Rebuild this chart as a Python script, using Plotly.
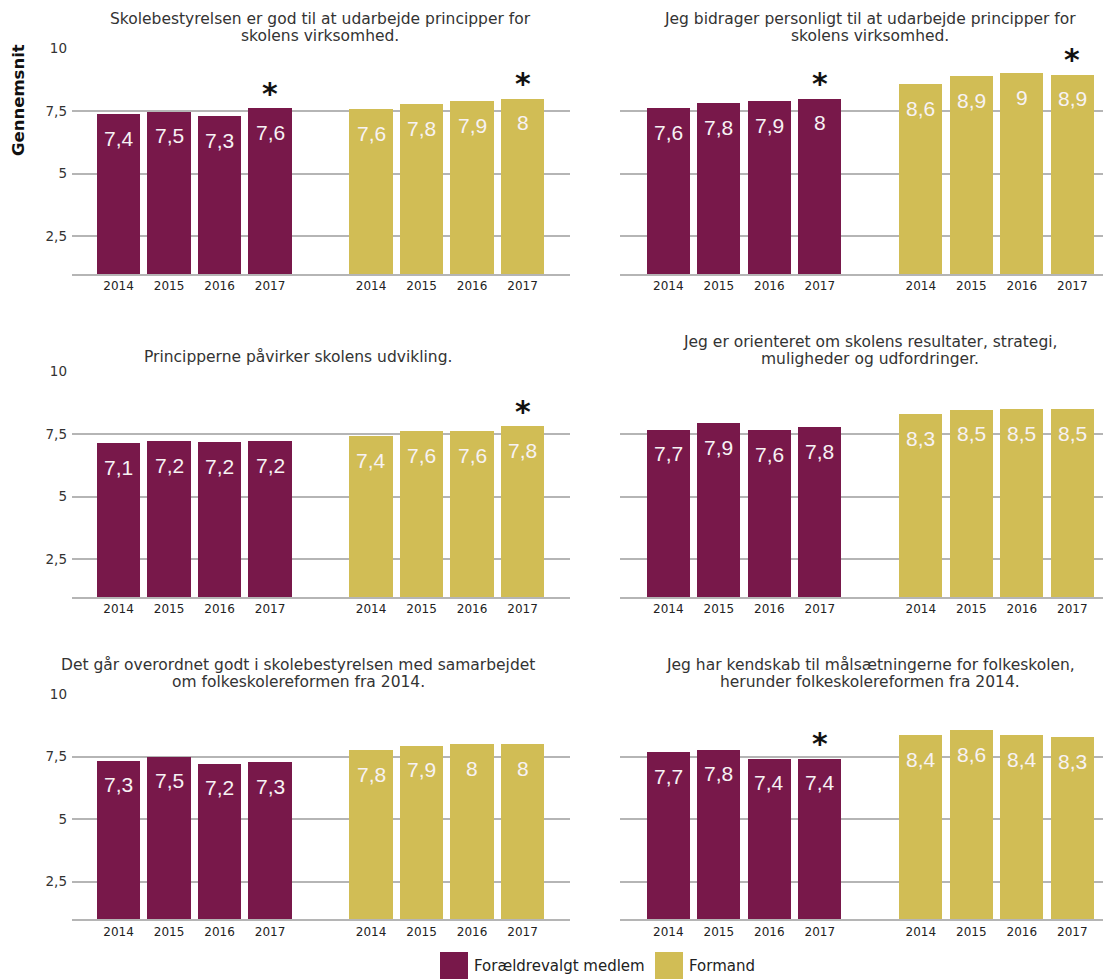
import plotly.graph_objects as go

# page offset (browser body margin)
OFF = 8
W, H = 1111 - OFF, 979 - OFF

years = ["2014", "2015", "2016", "2017"]
series_names = ["Forældrevalgt medlem", "Formand"]
titles = [
    ["Skolebestyrelsen er god til at udarbejde principper for", "skolens virksomhed."],
    ["Jeg bidrager personligt til at udarbejde principper for", "skolens virksomhed."],
    ["Principperne påvirker skolens udvikling."],
    ["Jeg er orienteret om skolens resultater, strategi,", "muligheder og udfordringer."],
    ["Det går overordnet godt i skolebestyrelsen med samarbejdet", "om folkeskolereformen fra 2014."],
    ["Jeg har kendskab til målsætningerne for folkeskolen,", "herunder folkeskolereformen fra 2014."],
]
purple_vals = [
    [7.36, 7.46, 7.28, 7.60],
    [7.60, 7.80, 7.87, 7.97],
    [7.13, 7.19, 7.16, 7.22],
    [7.66, 7.91, 7.64, 7.76],
    [7.33, 7.49, 7.22, 7.28],
    [7.67, 7.78, 7.42, 7.42],
]
yellow_vals = [
    [7.56, 7.76, 7.87, 7.97],
    [8.55, 8.88, 8.99, 8.93],
    [7.40, 7.60, 7.60, 7.80],
    [8.27, 8.46, 8.49, 8.49],
    [7.75, 7.94, 8.00, 8.00],
    [8.36, 8.56, 8.36, 8.27],
]
purple_star = [[0, 0, 0, 1], [0, 0, 0, 1], [0, 0, 0, 0], [0, 0, 0, 0], [0, 0, 0, 0], [0, 0, 0, 1]]
yellow_star = [[0, 0, 0, 1], [0, 0, 0, 1], [0, 0, 0, 1], [0, 0, 0, 0], [0, 0, 0, 0], [0, 0, 0, 0]]
ytick_vals = [2.5, 5, 7.5, 10]
ytick_text = ["2,5", "5", "7,5", "10"]
y_title = "Gennemsnit"

PURPLE = "#78184a"
YELLOW = "#d1bd55"
GRID = "#b5b5b5"

purple_slots = [0, 1, 2, 3]
yellow_slots = [5, 6, 7, 8]


def fmt(v):
    s = f"{v:.1f}".replace(".", ",")
    if s.endswith(",0"):
        s = s[:-2]
    return s


def px_x(p):
    return (p - OFF) / W


def px_y(p):
    return 1 - (p - OFF) / H


# geometry (page pixels)
col_x = [(72, 570), (620, 1111)]
col_range = [(-0.921, -0.921 + 498 / 50.5), (-0.956, -0.956 + 491 / 50.5)]
row_y = [(48, 274), (371.3, 597), (694, 919.3)]
title_cx = [[320, 870], [298, 870], [298, 870]]

fig = go.Figure()
annotations = []
layout_axes = {}

for i in range(6):
    r, c = divmod(i, 2)
    k = i + 1
    xa = "x" if k == 1 else f"x{k}"
    ya = "y" if k == 1 else f"y{k}"
    for slots, vals, color, name, stars in [
        (purple_slots, purple_vals[i], PURPLE, series_names[0], purple_star[i]),
        (yellow_slots, yellow_vals[i], YELLOW, series_names[1], yellow_star[i]),
    ]:
        fig.add_trace(go.Bar(
            x=slots, y=[v - 1 for v in vals], base=1, width=0.855,
            marker=dict(color=color, line=dict(width=0)),
            name=name, showlegend=False, xaxis=xa, yaxis=ya, hoverinfo="skip",
        ))
        for s, v, st in zip(slots, vals, stars):
            annotations.append(dict(
                x=s, y=v, xref=xa, yref=ya, text=fmt(v), showarrow=False,
                yanchor="middle", yshift=-24,
                font=dict(family="Liberation Sans", size=21, color="#f7f2f4"),
            ))
            if st:
                annotations.append(dict(
                    x=s, y=v, xref=xa, yref=ya, text="<b>*</b>", showarrow=False,
                    yanchor="middle", yshift=15,
                    font=dict(family="DejaVu Sans", size=30, color="#111111"),
                ))
    x0, x1 = col_x[c]
    yt, yb = row_y[r]
    layout_axes["xaxis" if k == 1 else f"xaxis{k}"] = dict(
        domain=[px_x(x0), min(px_x(x1), 1.0)], range=list(col_range[c]),
        tickvals=purple_slots + yellow_slots, ticktext=years + years,
        showgrid=False, zeroline=False, showline=True, linecolor=GRID, linewidth=2,
        ticks="", tickfont=dict(family="DejaVu Sans", size=12, color="#222222"),
        anchor=ya, fixedrange=True, automargin=False,
    )
    layout_axes["yaxis" if k == 1 else f"yaxis{k}"] = dict(
        domain=[px_y(yb), px_y(yt)], range=[1, 10],
        tickvals=ytick_vals, ticktext=ytick_text, showticklabels=(c == 0),
        showgrid=True, gridcolor=GRID, gridwidth=2, zeroline=False, showline=False,
        ticks="", ticklabelstandoff=4,
        tickfont=dict(family="DejaVu Sans", size=13.5, color="#333333"),
        anchor=xa, fixedrange=True, automargin=False,
    )
    lines = titles[i]
    n = len(lines)
    for j, line in enumerate(lines):
        cy = yt - 12 - 17 * (n - 1 - j)
        if n == 1:
            cy = yt - 14
        annotations.append(dict(
            x=px_x(title_cx[r][c]), y=px_y(cy), xref="paper", yref="paper",
            text=line, showarrow=False, xanchor="center", yanchor="middle",
            font=dict(family="DejaVu Sans", size=15.5, color="#333333"),
        ))

annotations.append(dict(
    x=px_x(19), y=px_y(100), xref="paper", yref="paper", text=f"<b>{y_title}</b>",
    textangle=-90, showarrow=False, xanchor="center", yanchor="middle",
    font=dict(family="DejaVu Sans", size=16.5, color="#111111"),
))

# legend
shapes = []
legend_items = [(440, 472, PURPLE, series_names[0]), (655, 687, YELLOW, series_names[1])]
for sx, tx, color, name in legend_items:
    shapes.append(dict(type="rect", xref="paper", yref="paper",
                       x0=px_x(sx), x1=px_x(sx + 28), y0=px_y(981), y1=px_y(952),
                       fillcolor=color, line=dict(width=0)))
    annotations.append(dict(
        x=px_x(tx), y=px_y(966), xref="paper", yref="paper", text=name, showarrow=False,
        xanchor="left", yanchor="middle",
        font=dict(family="DejaVu Sans", size=15, color="#222222"),
    ))

fig.update_layout(
    width=W, height=H, margin=dict(l=0, r=0, t=0, b=0),
    paper_bgcolor="white", plot_bgcolor="white",
    bargap=0, showlegend=False,
    annotations=annotations, shapes=shapes,
    **layout_axes,
)

fig.write_html("out.html")
